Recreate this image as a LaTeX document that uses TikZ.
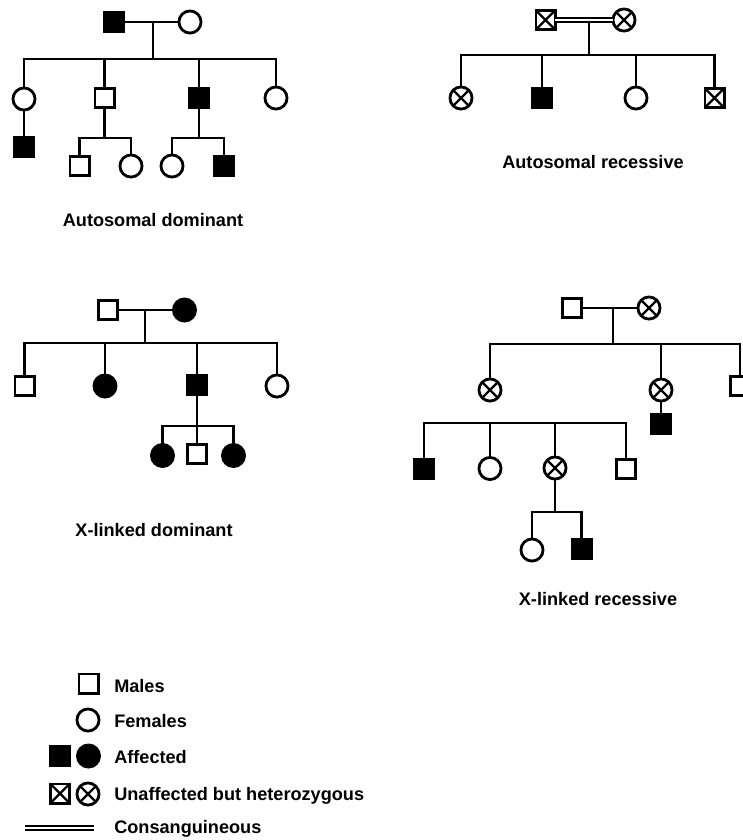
\documentclass[tikz,border=0pt]{standalone}
\usepackage{fontspec}
\setmainfont{Liberation Sans}
\begin{document}
\begin{tikzpicture}[x=0.75pt,y=-0.75pt,
  ind/.style={draw, line width=2.1pt, inner sep=0pt, outer sep=0pt},
  male/.style={ind, rectangle, minimum size=14.4pt},
  female/.style={ind, circle, minimum size=16.6pt},
  aff/.style={fill=black},
  het/.style={path picture={\draw[line width=1.8pt] (path picture bounding box.north west) -- (path picture bounding box.south east) (path picture bounding box.north east) -- (path picture bounding box.south west);}},
  link/.style={line width=2pt},
  cons/.style={line width=1.4pt, double, double distance=1.8pt},
  lab/.style={font=\fontsize{13.6}{16}\selectfont\bfseries, inner sep=0pt, anchor=base},
  leg/.style={lab, anchor=base west}]
\fill[white] (0,0) rectangle (743,840);
\useasboundingbox (0,0) rectangle (743,840);

% ---------- Autosomal dominant ----------
\node[male,aff] (a1) at (113.5,22) {};
\node[female] (a2) at (190,22) {};
\draw[link] (a1) -- (a2);
\coordinate (aD) at (153,22);
\coordinate (aS) at (153,59);
\draw[link] (aD) -- (aS);
\node[female] (a3) at (24,99) {};
\node[male] (a4) at (104.5,98) {};
\node[male,aff] (a5) at (199,98) {};
\node[female] (a6) at (276,98) {};
\draw[link] (a3) |- (aS) -| (a6);
\draw[link] (a4) -- (a4 |- aS);
\draw[link] (a5) -- (a5 |- aS);
\node[male,aff] (a7) at (24,147) {};
\draw[link] (a3) -- (a7);
\coordinate (aS2) at (104.5,138);
\node[male] (a8) at (79.5,166) {};
\node[female] (a9) at (131,166) {};
\draw[link] (a4) -- (aS2);
\draw[link] (a8) |- (aS2) -| (a9);
\coordinate (aS3) at (199,138);
\node[female] (a10) at (172,166) {};
\node[male,aff] (a11) at (224,166) {};
\draw[link] (a5) -- (aS3);
\draw[link] (a10) |- (aS3) -| (a11);
\node[lab] (aL) at (153,226) {Autosomal dominant};

% ---------- Autosomal recessive ----------
\node[male,het] (b1) at (545.5,20) {};
\node[female,het] (b2) at (624,20) {};
\draw[cons] (b1) -- (b2);
\coordinate (bD) at (589,22);
\coordinate (bS) at (589,55);
\draw[link] (bD) -- (bS);
\node[female,het] (b3) at (461,98) {};
\node[male,aff] (b4) at (542,98) {};
\node[female] (b5) at (636,98) {};
\node[male,het] (b6) at (714.5,98) {};
\draw[link] (b3) |- (bS) -| (b6);
\draw[link] (b4) -- (b4 |- bS);
\draw[link] (b5) -- (b5 |- bS);
\node[lab] (bL) at (593,168) {Autosomal recessive};

% ---------- X-linked dominant ----------
\node[male] (c1) at (108,310) {};
\node[female,aff] (c2) at (184.5,310) {};
\draw[link] (c1) -- (c2);
\coordinate (cD) at (145,310);
\coordinate (cS) at (145,343);
\draw[link] (cD) -- (cS);
\node[male] (c3) at (24.5,386) {};
\node[female,aff] (c4) at (105,386) {};
\node[male,aff] (c5) at (197,385) {};
\node[female] (c6) at (277,386) {};
\draw[link] (c3) |- (cS) -| (c6);
\draw[link] (c4) -- (c4 |- cS);
\draw[link] (c5) -- (c5 |- cS);
\coordinate (cS2) at (197,426);
\node[female,aff] (c7) at (162.5,455.5) {};
\node[male] (c8) at (197,454) {};
\node[female,aff] (c9) at (233.5,455.5) {};
\draw[link] (c5) -- (c8);
\draw[link] (c7) |- (cS2) -| (c9);
\node[lab] (cL) at (154,536) {X-linked dominant};

% ---------- X-linked recessive ----------
\node[male] (d1) at (572,308) {};
\node[female,het] (d2) at (649,308) {};
\draw[link] (d1) -- (d2);
\coordinate (dD) at (613,308);
\coordinate (dS) at (613,344);
\draw[link] (dD) -- (dS);
\node[female,het] (d3) at (490,390) {};
\node[female,het] (d4) at (661,390) {};
\node[male] (d5) at (740,386) {};
\draw[link] (d3) |- (dS) -| (d5);
\draw[link] (d4) -- (d4 |- dS);
\node[male,aff] (d6) at (661,424) {};
\draw[link] (d4) -- (d6);
\coordinate (dS2) at (490,423);
\node[male,aff] (d7) at (424,469) {};
\node[female] (d8) at (490,468.5) {};
\node[female,het] (d9) at (555,468) {};
\node[male] (d10) at (626,469) {};
\draw[link] (d7) |- (dS2) -| (d10);
\draw[link] (d8) -- (d8 |- dS2);
\draw[link] (d9) -- (d9 |- dS2);
\coordinate (dS3) at (555,512);
\node[female] (d11) at (532,550) {};
\node[male,aff] (d12) at (581.5,549) {};
\draw[link] (d9) -- (dS3);
\draw[link] (d11) |- (dS3) -| (d12);
\node[lab] (dL) at (598,605) {X-linked recessive};

% ---------- Legend ----------
\node[male] (l1) at (88.5,683.5) {};
\node[female] (l2) at (88,720) {};
\node[male,aff] (l3) at (60,756) {};
\node[female,aff] (l4) at (88.5,756) {};
\node[male,het] (l5) at (60,793.5) {};
\node[female,het] (l6) at (88,794) {};
\coordinate (lA) at (25,828);
\coordinate (lB) at (94,828);
\draw[cons] (lA) -- (lB);
\node[leg] (t1) at (114,692) {Males};
\node[leg] (t2) at (114,727) {Females};
\node[leg] (t3) at (114,763) {Affected};
\node[leg] (t4) at (114,800) {Unaffected but heterozygous};
\node[leg] (t5) at (114,833) {Consanguineous};
\end{tikzpicture}
\end{document}
